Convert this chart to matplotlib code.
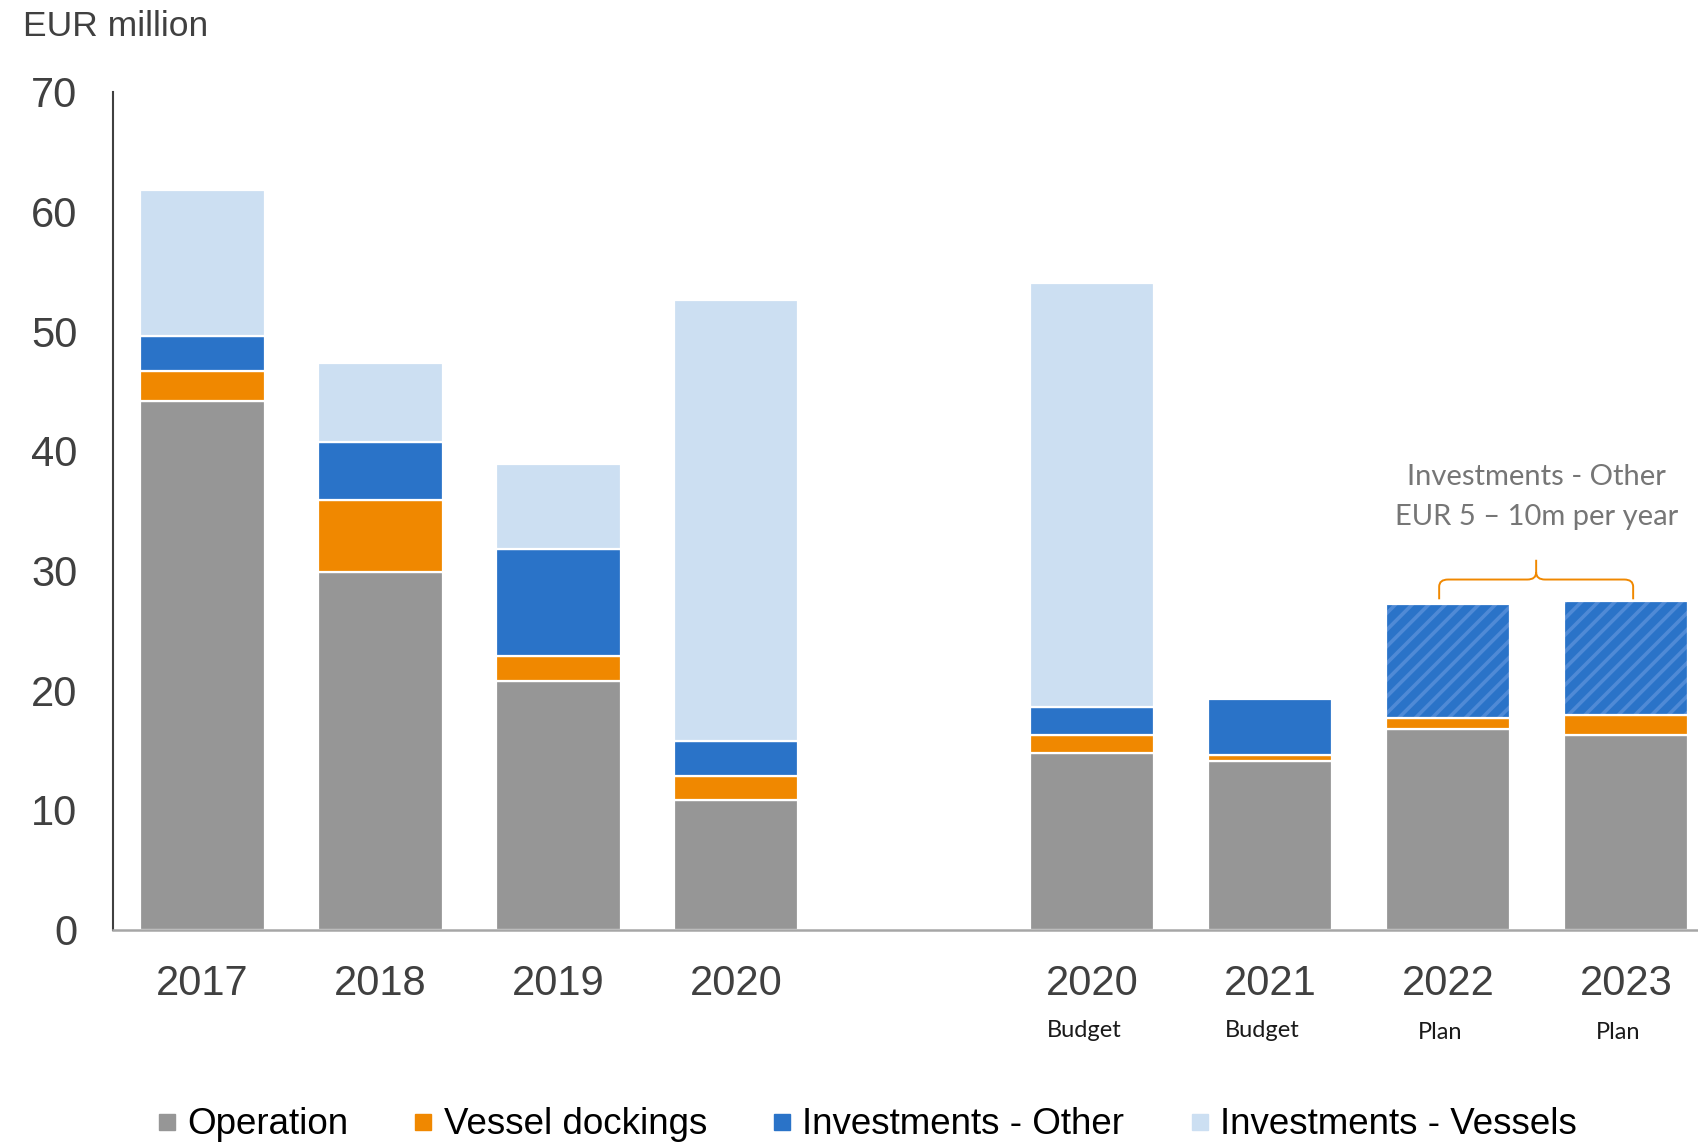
import matplotlib
matplotlib.use("Agg")
import matplotlib.pyplot as plt
from matplotlib.path import Path
from matplotlib.patches import PathPatch
from matplotlib.lines import Line2D
import numpy as np

# ---- data ----
years = ['2017', '2018', '2019', '2020', '2020', '2021', '2022', '2023']
sublabels = ['', '', '', '', 'Budget', 'Budget', 'Plan', 'Plan']
operation = [44.2, 29.9, 20.75, 10.8, 14.8, 14.1, 16.8, 16.3]
dockings = [2.5, 6.0, 2.15, 2.0, 1.5, 0.5, 0.9, 1.6]
inv_other = [2.9, 4.8, 8.9, 3.0, 2.3, 4.66, 9.5, 9.55]
inv_vessels = [12.2, 6.65, 7.1, 36.8, 35.4, 0.0, 0.0, 0.0]
planned = [False, False, False, False, False, False, True, True]
series_names = ['Operation', 'Vessel dockings', 'Investments - Other', 'Investments - Vessels']
annot_lines = ['Investments - Other', 'EUR 5 – 10m per year']

# ---- style ----
C_OP = '#969696'
C_DOCK = '#F08800'
C_OTHER = '#2A73C8'
C_VES = '#CCDFF2'
C_HATCH = '#4F8AD6'
TXT = '#404040'

plt.rcParams['font.family'] = ['Liberation Sans', 'DejaVu Sans']
plt.rcParams['hatch.linewidth'] = 2.6

W, H = 1699, 1143
fig = plt.figure(figsize=(W / 100, H / 100), dpi=100)
ax_l, ax_r, ax_b, ax_t = 113.3, 1699, 929.7, 91.7
ax = fig.add_axes([ax_l / W, (H - ax_b) / H, (ax_r - ax_l) / W, (ax_b - ax_t) / H])

pos = np.array([0, 1, 2, 3, 5, 6, 7, 8], dtype=float)
bw = 0.70
op = np.array(operation)
dk = np.array(dockings)
ot = np.array(inv_other)
vs = np.array(inv_vessels)

ekw = dict(edgecolor='white', linewidth=1.6)
ax.bar(pos, op, bw, color=C_OP, **ekw)
ax.bar(pos, dk, bw, bottom=op, color=C_DOCK, **ekw)
for i in range(len(pos)):
    if planned[i]:
        ax.bar(pos[i], ot[i], bw, bottom=op[i] + dk[i], color=C_OTHER,
               edgecolor=C_HATCH, linewidth=0, hatch='//')
        ax.bar(pos[i], ot[i], bw, bottom=op[i] + dk[i], fill=False, **ekw)
    else:
        ax.bar(pos[i], ot[i], bw, bottom=op[i] + dk[i], color=C_OTHER, **ekw)
mask = vs > 0
ax.bar(pos[mask], vs[mask], bw, bottom=(op + dk + ot)[mask], color=C_VES, **ekw)

ax.set_ylim(0, 70)
ax.set_xlim(-0.50, 8.41)
ax.set_yticks(range(0, 71, 10))
ax.tick_params(axis='y', length=0, pad=26, labelsize=30, labelcolor=TXT)
ax.set_xticks(pos)
ax.set_xticklabels(years)
ax.tick_params(axis='x', length=0, pad=24.5, labelsize=30, labelcolor=TXT)
for s in ['top', 'right']:
    ax.spines[s].set_visible(False)
ax.spines['left'].set_color('#404040')
ax.spines['left'].set_linewidth(1.5)
ax.spines['bottom'].set_color('#A6A6A6')
ax.spines['bottom'].set_linewidth(1.8)

# sub labels
trans = ax.get_xaxis_transform()
for p, s in zip(pos, sublabels):
    if s:
        yy = -0.1225 if s == 'Plan' else -0.1205
        ax.text(p - 0.045, yy, s, transform=trans, ha='center', va='center',
                fontsize=17, family=['Lato', 'DejaVu Sans'], color='#1a1a1a')

# brace over planned bars
tot = op + dk + ot + vs
pidx = [i for i in range(len(pos)) if planned[i]]
top = tot[pidx].max()
x0 = pos[pidx[0]] - 0.05
x1 = pos[pidx[-1]] + 0.04
xm = (x0 + x1) / 2
y_end = top + 0.15
y_line = top + 1.8
y_tip = top + 3.45
dx = 0.05
dy = 0.6
verts = [(x0, y_end), (x0, y_line - dy), (x0, y_line), (x0 + dx, y_line),
         (xm - dx, y_line), (xm, y_line), (xm, y_line + dy), (xm, y_tip),
         (xm, y_line + dy), (xm, y_line), (xm + dx, y_line),
         (x1 - dx, y_line), (x1, y_line), (x1, y_line - dy), (x1, y_end)]
codes = [Path.MOVETO, Path.LINETO, Path.CURVE3, Path.CURVE3,
         Path.LINETO, Path.CURVE3, Path.CURVE3, Path.LINETO,
         Path.MOVETO, Path.CURVE3, Path.CURVE3,
         Path.LINETO, Path.CURVE3, Path.CURVE3, Path.LINETO]
ax.add_patch(PathPatch(Path(verts, codes), fill=False, edgecolor=C_DOCK, linewidth=1.4,
                       clip_on=False))
ax.text(xm, 37.8, annot_lines[0], ha='center', va='center', fontsize=21,
        family=['Lato', 'DejaVu Sans'], color='#767676')
ax.text(xm, 34.5, annot_lines[1], ha='center', va='center', fontsize=21,
        family=['Lato', 'DejaVu Sans'], color='#767676')

# y-axis unit label
fig.text(23 / W, 1 - 27 / H, 'EUR million', ha='left', va='center', fontsize=25.5, color=TXT)

# legend
colors = [C_OP, C_DOCK, C_OTHER, C_VES]
handles = [Line2D([], [], linestyle='none', marker='s', markersize=11,
                  markerfacecolor=c, markeredgecolor=c) for c in colors]
fig.legend(handles, series_names, loc='center left', bbox_to_anchor=(156 / W, (H - 1125) / H),
           ncol=4, frameon=False, fontsize=26.5, handlelength=0.6, handletextpad=0.25,
           columnspacing=1.74, borderpad=0, borderaxespad=0, labelcolor='black')

fig.savefig('out.png', dpi=100)
